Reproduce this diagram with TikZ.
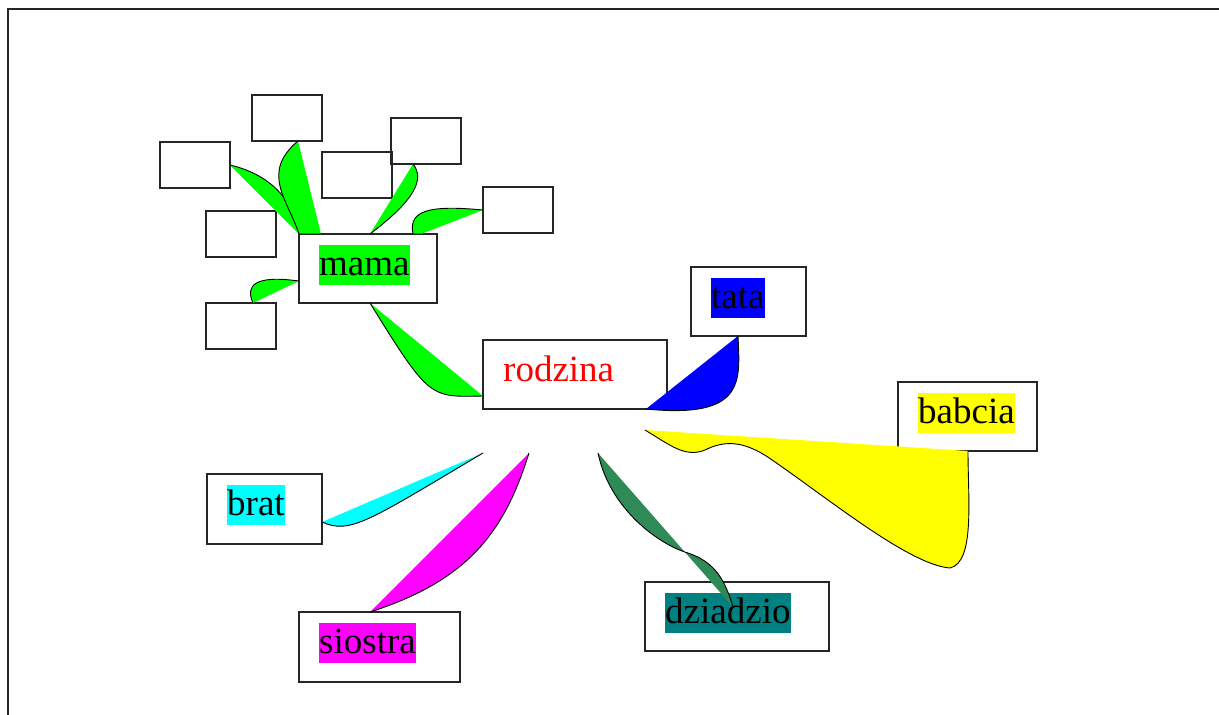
\documentclass[tikz,border=0pt]{standalone}
\usepackage{fontspec}
\setmainfont{Liberation Serif}
\definecolor{seagreen}{RGB}{46,139,87}
\definecolor{cyan}{RGB}{0,255,255}
\definecolor{magenta}{RGB}{255,0,255}
\definecolor{yellow}{RGB}{255,255,0}

\begin{document}
\begin{tikzpicture}[x=1pt,y=-1pt,
        box/.style={draw=black!85, line width=1.4pt, anchor=north west, inner sep=0pt, outer sep=0pt, minimum height=69pt},
        leaf/.style={box, minimum width=70pt, minimum height=46pt},
        txt/.style={anchor=base west, inner sep=0pt, text height=30pt, text depth=10pt, font=\fontsize{37}{40}\selectfont},
        twig/.style={draw=black, line width=0.9pt, fill=#1}]
        \useasboundingbox (0,0) rectangle (1219,715);
        \draw[line width=2pt, black!85] (7.5,715) |- (1219,8.5);
        % main boxes
        \node[box, minimum width=184pt] (rodzina) at (483,340) {};
        \node[box, minimum width=138pt] (mama) at (299,234) {};
        \node[box, minimum width=115pt] (tata) at (691,267) {};
        \node[box, minimum width=139pt] (babcia) at (898,382) {};
        \node[box, minimum width=115pt, minimum height=70pt] (brat) at (207,474) {};
        \node[box, minimum width=161pt, minimum height=70pt] (siostra) at (299,612) {};
        \node[box, minimum width=184pt] (dziadzio) at (645,582) {};
        % empty boxes round mama
        \node[leaf] (m1) at (160,142) {};
        \node[leaf] (m2) at (252,95) {};
        \node[leaf] (m3) at (322,152) {};
        \node[leaf] (m4) at (391,118) {};
        \node[leaf] (m5) at (483,187) {};
        \node[leaf] (m6) at (206,211) {};
        \node[leaf] (m7) at (206,303) {};
        % texts
        \node[txt, text=red] (rodzinat) at ([shift={(20,41)}]rodzina.north west) {rodzina};
        \node[txt, fill=green] (mamat) at ([shift={(20,41)}]mama.north west) {mama};
        \node[txt, fill=blue] (tatat) at ([shift={(20,41)}]tata.north west) {tata};
        \node[txt, fill=yellow] (babciat) at ([shift={(20,41)}]babcia.north west) {babcia};
        \node[txt, fill=cyan] (bratt) at ([shift={(20,41)}]brat.north west) {brat};
        \node[txt, fill=magenta] (siostrat) at ([shift={(20,41)}]siostra.north west) {siostra};
        \node[txt, fill=teal] (dziadziot) at ([shift={(20,41)}]dziadzio.north west) {dziadzio};
        % free ends under rodzina
        \coordinate (r1) at ([shift={(0,44)}]rodzina.south west);
        \coordinate (r2) at ([shift={(46,44)}]rodzina.south west);
        \coordinate (r3) at ([shift={(115,44)}]rodzina.south west);
        \coordinate (r4) at ([shift={(162,21)}]rodzina.south west);
        % mama branches
        \draw[twig=green] ([shift={(71,0)}]mama.south west) .. controls +(60,97) and +(-53,1) .. ([shift={(0,-13)}]rodzina.south west);
        \draw[twig=green] (m1.east) .. controls +(30,7) and +(-7,-43) .. (mama.north west);
        \draw[twig=green] ([shift={(46,0)}]m2.south west) .. controls +(-38,32) and +(-11,-34) .. (mama.north west) -- ([shift={(22,0)}]mama.north west);
        \draw[twig=green] ([shift={(22,0)}]m4.south west) .. controls +(12,15) and +(45,-34) .. ([shift={(71,0)}]mama.north west);
        \draw[twig=green] (m5.west) .. controls +(-53,-5) and +(-5,-24) .. ([shift={(114,0)}]mama.north west) -- ([shift={(122,0)}]mama.north west);
        \draw[twig=green] ([shift={(0,-22)}]mama.south west) .. controls +(-44,-6) and +(-8,-18) .. ([shift={(47,0)}]m7.north west);
        % rodzina branches
        \draw[twig=blue] ([shift={(-21,0)}]rodzina.south east) .. controls +(100,10) and +(2,45) .. ([shift={(47,0)}]tata.south west);
        \draw[twig=cyan] ([shift={(0,-22)}]brat.south east) .. controls +(28,13) and +(-113,67) .. (r1);
        \draw[twig=magenta] (r2) .. controls +(-24,77) and +(100,-32) .. ([shift={(71,0)}]siostra.north west);
        \draw[twig=seagreen] (r3) .. controls +(12,57) and (660,545) .. (688,553) .. controls (715,562) and (725,580) .. ([shift={(88,25)}]dziadzio.north west);
        \draw[twig=yellow] (r4) .. controls +(25,15) and (685,458) .. (705,450) .. controls (725,440) and (745,440) .. (775,462) .. controls (830,500) and (910,565) .. (950,568) .. controls (975,562) and (968,500) .. ([shift={(70,0)}]babcia.south west);
\end{tikzpicture}
\end{document}
